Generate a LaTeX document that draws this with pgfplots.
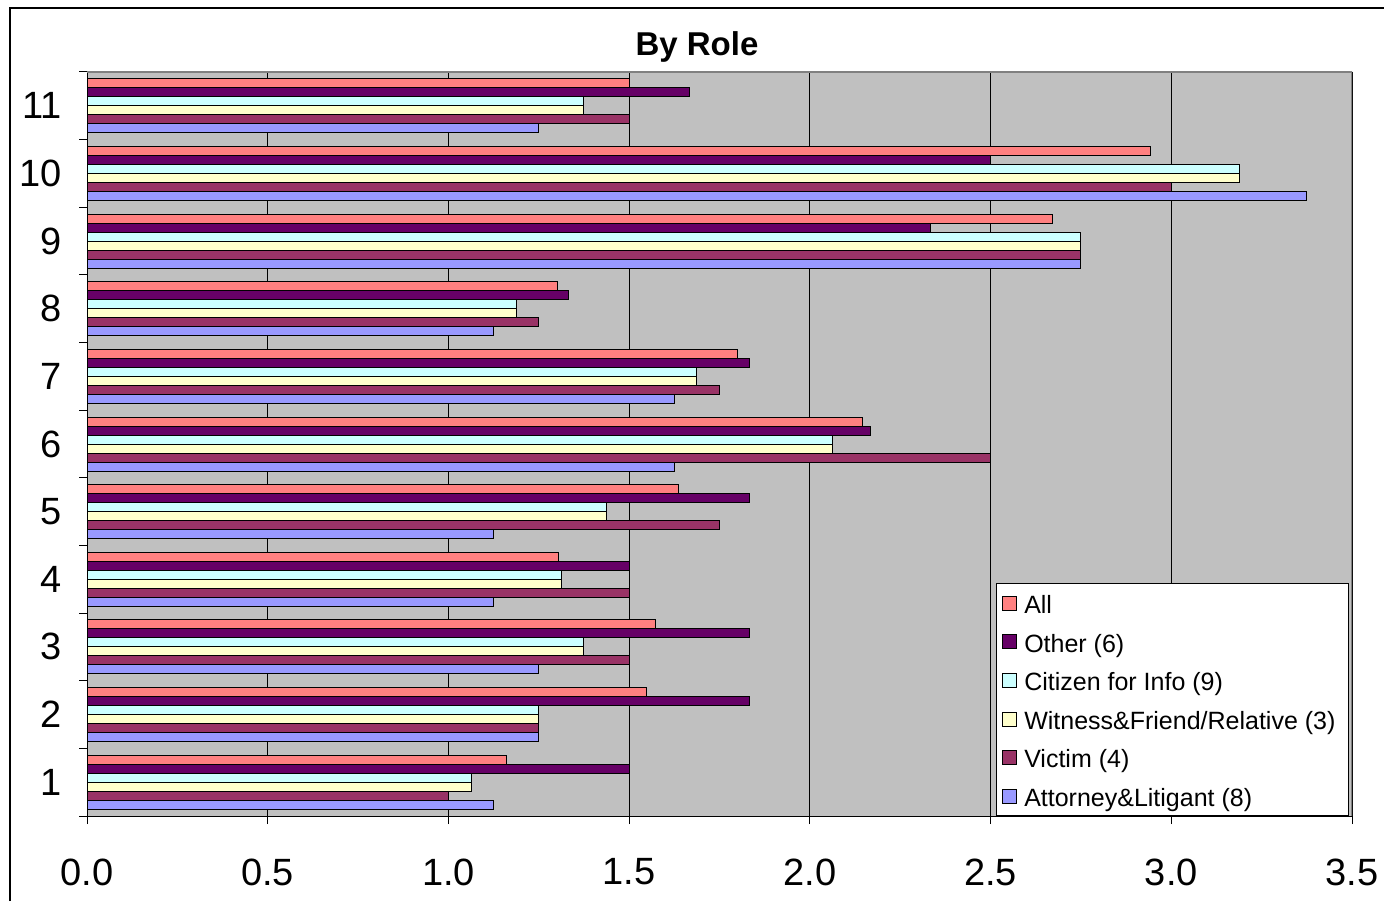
\documentclass[border=0pt]{standalone}
\usepackage{pgfplots}
\pgfplotsset{compat=1.18}
\usepackage{fontspec}
\setmainfont{Liberation Sans}
\definecolor{cAll}{HTML}{FF8080}
\definecolor{cOther}{HTML}{660066}
\definecolor{cCit}{HTML}{CCFFFF}
\definecolor{cWit}{HTML}{FFFFCC}
\definecolor{cVic}{HTML}{993366}
\definecolor{cAtt}{HTML}{9999FF}
\definecolor{bg}{HTML}{C0C0C0}
\definecolor{frameGray}{HTML}{808080}
\begin{document}
\begin{tikzpicture}
\useasboundingbox (0,0) rectangle (692pt,450.5pt);
\draw[line width=0.6pt] (5pt,0) -- (5pt,446.5pt) -- (692pt,446.5pt);
\node[font=\bfseries\fontsize{16.5}{18}\selectfont] at (348.5pt,426.8pt) {By Role};
\begin{axis}[
  at={(43.5pt,42.5pt)}, anchor=south west,
  scale only axis, width=632.5pt, height=372pt,
  bar width=4.5pt,
  xmin=0, xmax=3.5, ymin=0.5, ymax=11.5,
  axis x line*=bottom, axis y line*=left,
  axis line style={black, line width=0.5pt},
  axis background/.style={fill=bg},
  xtick={0,0.5,1,1.5,2,2.5,3,3.5},
  xticklabels={0.0,0.5,1.0,1.5,2.0,2.5,3.0,3.5},
  xmajorgrids, major grid style={black, line width=0.5pt},
  tick align=outside, major tick length=4pt,
  tick style={black, line width=0.5pt},
  ytick={0.5,1.5,2.5,3.5,4.5,5.5,6.5,7.5,8.5,9.5,10.5,11.5},
  yticklabels={},
  extra y ticks={1,2,3,4,5,6,7,8,9,10,11},
  extra y tick labels={1,2,3,4,5,6,7,8,9,10,11},
  extra y tick style={major tick length=0pt, grid=none},
  ymajorgrids=false,
  /pgf/number format/assume math mode=true,
  tick label style={font=\fontsize{19}{21}\selectfont},
  xticklabel style={anchor=center, yshift=-24pt},
  yticklabel style={anchor=east, xshift=-9pt},
  legend style={at={(0.9976,0)}, anchor=south east, draw=black, fill=white,
    line width=0.5pt, font=\fontsize{12.5}{14}\selectfont,
    inner xsep=3pt, inner ysep=0pt,
    nodes={text height=11.3pt, text depth=1pt, inner sep=3.5pt}},
  legend cell align=left,
  legend image code/.code={\draw[#1, draw=black, line width=0.5pt] (0pt,-3.5pt) rectangle (7pt,3.5pt);},
]
\addplot[xbar, bar shift=11.25pt, fill=cAll, draw=black, line width=0.5pt] coordinates {
 (1.162,1) (1.548,2) (1.574,3) (1.304,4) (1.637,5) (2.146,6) (1.801,7) (1.303,8) (2.671,9) (2.942,10) (1.5,11)};
\addlegendentry{All}
\addplot[xbar, bar shift=6.75pt, fill=cOther, draw=black, line width=0.5pt] coordinates {
 (1.5,1) (1.833,2) (1.833,3) (1.5,4) (1.833,5) (2.167,6) (1.833,7) (1.333,8) (2.333,9) (2.5,10) (1.667,11)};
\addlegendentry{Other (6)}
\addplot[xbar, bar shift=2.25pt, fill=cCit, draw=black, line width=0.5pt] coordinates {
 (1.0625,1) (1.25,2) (1.375,3) (1.3125,4) (1.4375,5) (2.0625,6) (1.6875,7) (1.1875,8) (2.75,9) (3.1875,10) (1.375,11)};
\addlegendentry{Citizen for Info (9)}
\addplot[xbar, bar shift=-2.25pt, fill=cWit, draw=black, line width=0.5pt] coordinates {
 (1.0625,1) (1.25,2) (1.375,3) (1.3125,4) (1.4375,5) (2.0625,6) (1.6875,7) (1.1875,8) (2.75,9) (3.1875,10) (1.375,11)};
\addlegendentry{Witness\&Friend/Relative (3)}
\addplot[xbar, bar shift=-6.75pt, fill=cVic, draw=black, line width=0.5pt] coordinates {
 (1.0,1) (1.25,2) (1.5,3) (1.5,4) (1.75,5) (2.5,6) (1.75,7) (1.25,8) (2.75,9) (3.0,10) (1.5,11)};
\addlegendentry{Victim (4)}
\addplot[xbar, bar shift=-11.25pt, fill=cAtt, draw=black, line width=0.5pt] coordinates {
 (1.125,1) (1.25,2) (1.25,3) (1.125,4) (1.125,5) (1.625,6) (1.625,7) (1.125,8) (2.75,9) (3.375,10) (1.25,11)};
\addlegendentry{Attorney\&Litigant (8)}
\draw[frameGray, line width=0.6pt] (rel axis cs:0,1) -- (rel axis cs:1,1) -- (rel axis cs:1,0);
\end{axis}
\end{tikzpicture}
\end{document}
